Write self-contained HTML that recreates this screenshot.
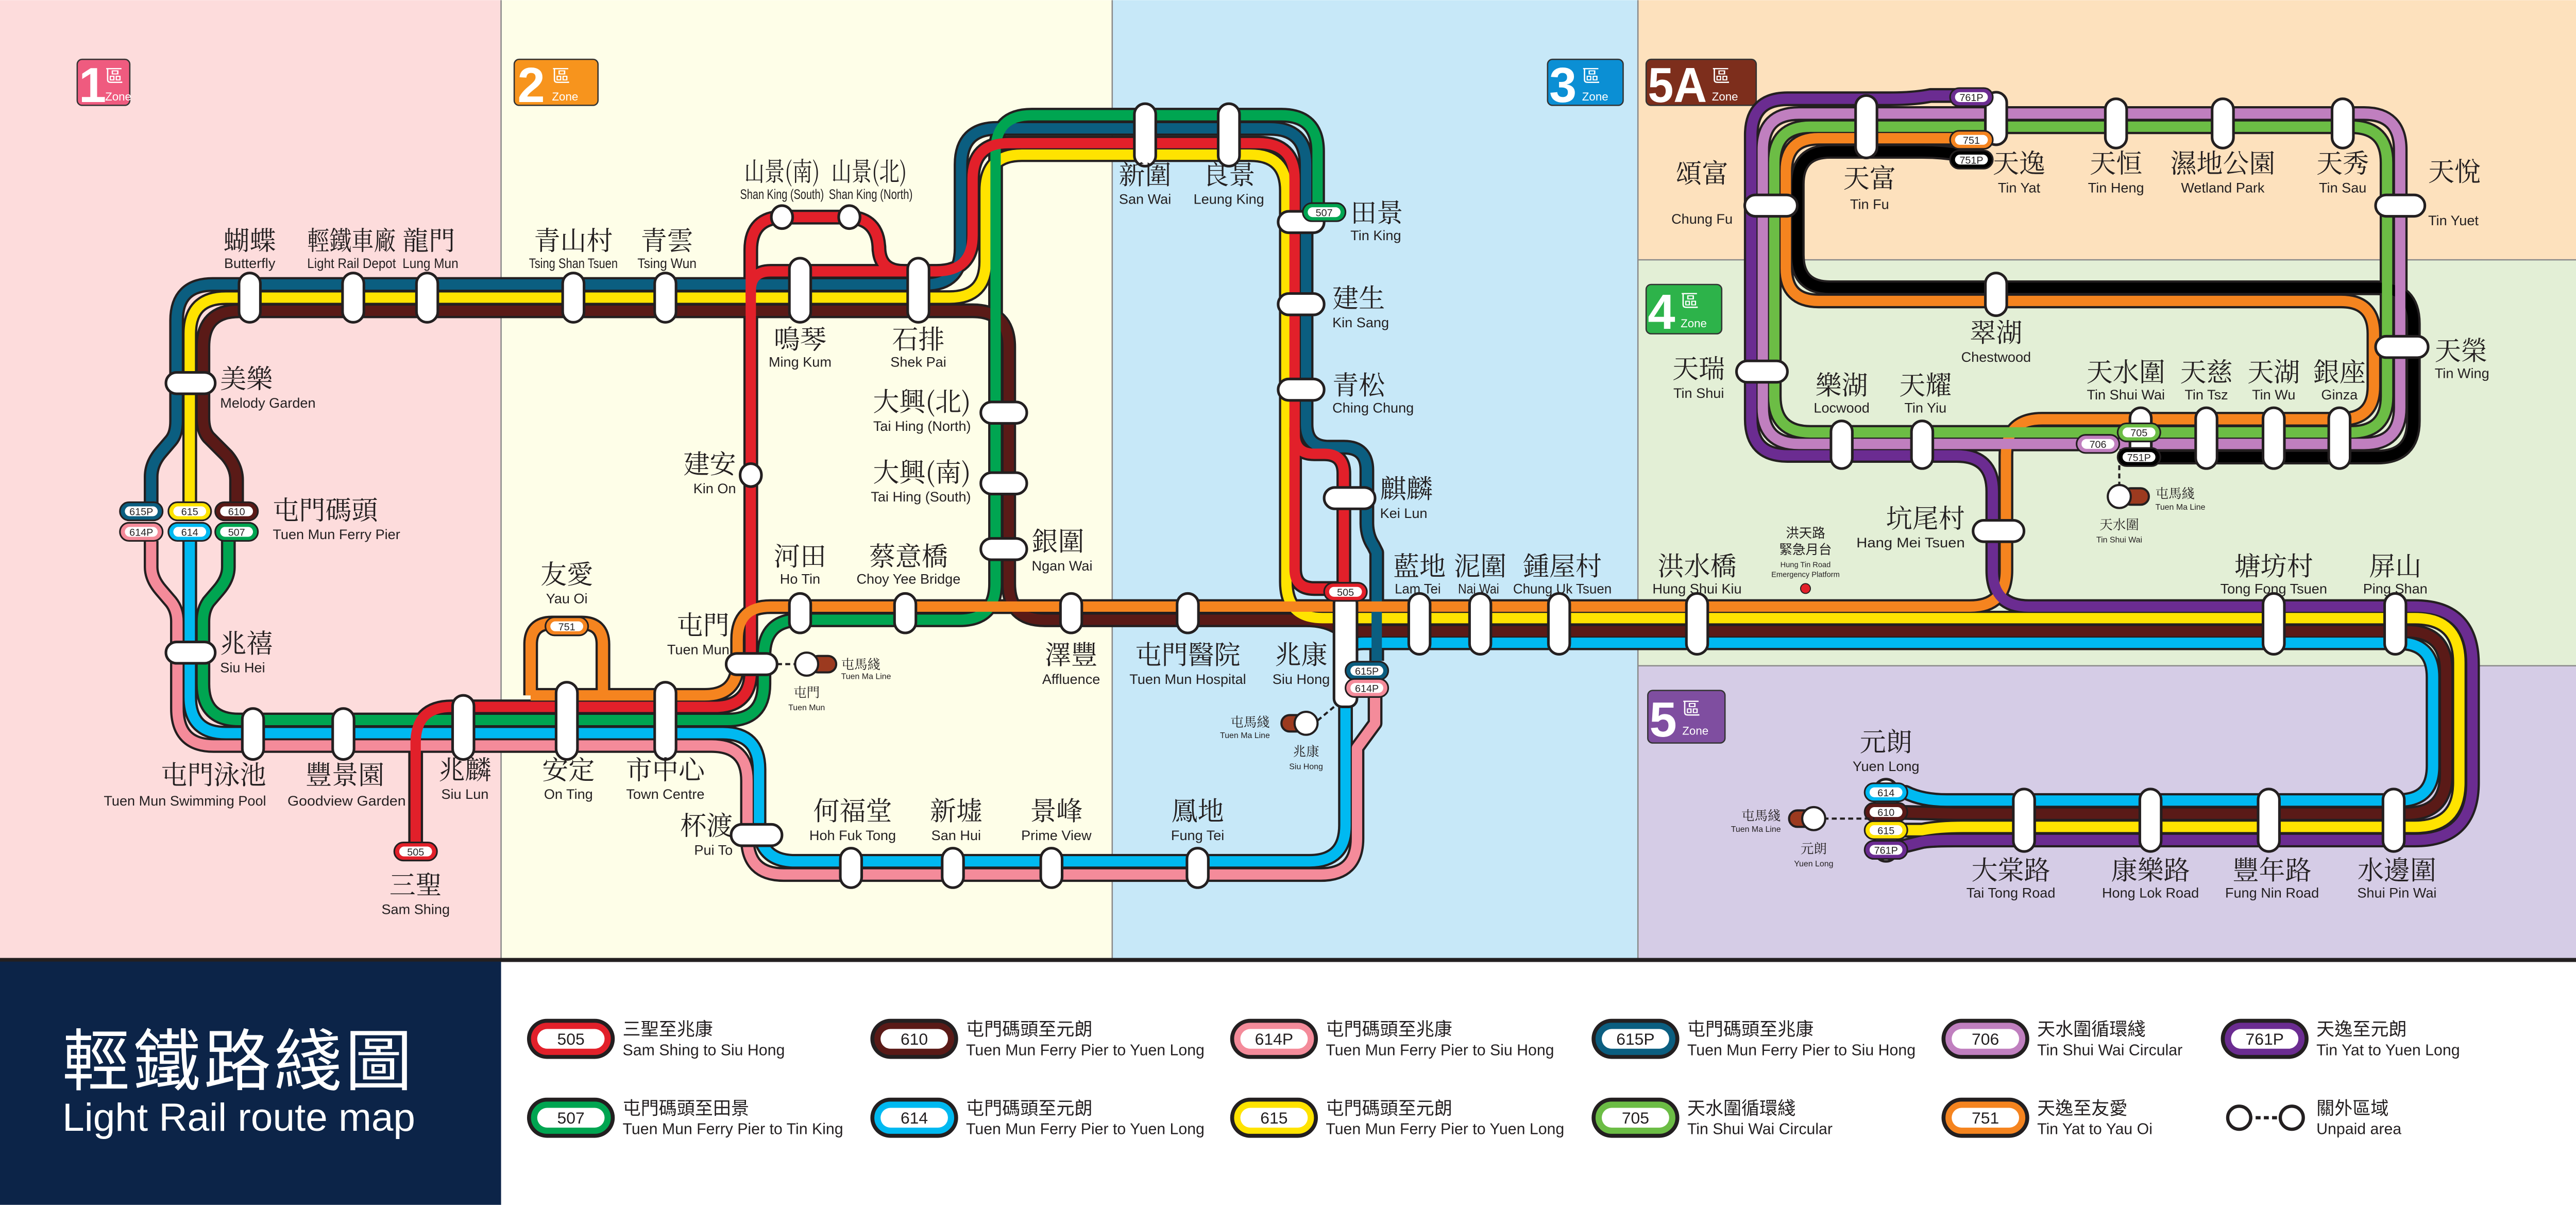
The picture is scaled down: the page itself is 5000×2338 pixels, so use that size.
<!DOCTYPE html>
<html><head><meta charset="utf-8"><style>
html,body{margin:0;padding:0;background:#fff}
svg{display:block}
text{font-family:"Liberation Sans","Noto Sans CJK TC",sans-serif;fill:#231f20}
.cn{font-family:"Noto Serif CJK SC","Noto Sans CJK TC",serif;font-size:16px}
.en{font-size:8.5px}
.c{text-anchor:middle}
.r{text-anchor:end}
.st{fill:#fff;stroke:#231f20;stroke-width:1.6}
.bt{font-size:6.2px;text-anchor:middle;fill:#231f20}
.zn{fill:#fff;font-size:30px;font-weight:bold}
</style></head><body>
<svg xmlns="http://www.w3.org/2000/svg" xmlns:xlink="http://www.w3.org/1999/xlink" width="5000" height="2338" viewBox="0 0 1568 733">
<defs>
<path id="teal" d="M92,306 L92,290 Q92,282 98,275 L104,268 Q107.5,264 107.5,256 L107.5,195 Q107.5,173 129.5,173 L563,173 Q585,173 585,151 L585,100 Q585,78 607,78 L773,78 Q795,78 795,100 L795,258 Q795,272 809,272 L818,272 Q832,272 832,286 L832,318 Q832,326 836,332 L838,336 L838,402"/>
<path id="yel" d="M115.5,306 L115.5,203 Q115.5,181 137.5,181 L578,181 Q600,181 600,159 L600,116 Q600,94 622,94 L761,94 Q783,94 783,116 L783,354 Q783,376 805,376 L1470,376 Q1497,376 1497,403 L1497,476 Q1497,503 1470,503 L1195,503 Q1180,503 1170,505 L1150,505"/>
<path id="brn" d="M144,306 L144,292 Q144,284 138,277 L127,266 Q123.5,262 123.5,254 L123.5,211 Q123.5,189 145.5,189 L592,189 Q614,189 614,211 L614,355 Q614,377 636,377 L795,377 Q805,377 812,380.5 Q819,384 829,384 L1465,384 Q1489,384 1489,408 L1489,471 Q1489,495 1465,495 L1190,495 L1150,494"/>
<path id="lb" d="M115.5,329 L115.5,424 Q115.5,446 137.5,446 L440,446 Q462,446 462,468 L462,502 Q462,524 484,524 L797,524 Q819,524 819,502 L819,400 Q819,391 830,391 L1460,391 Q1481,391 1481,412 L1481,466 Q1481,487 1460,487 L1185,487 Q1170,487 1160,482 L1150,482"/>
<path id="pnk" d="M92,329 L92,345 Q92,352 98,359 L104,366 Q108,371 108,378 L108,431 Q108,453.5 130,453.5 L433,453.5 Q455,453.5 455,475 L455,510 Q455,532 477,532 L804,532 Q826,532 826,510 L826,455 L837,440 L837,424"/>
<path id="grn" d="M139,329 L139,345 Q139,352 133,359 L127,366 Q123.5,371 123.5,378 L123.5,416 Q123.5,438 145.5,438 L443,438 Q465,438 465,416 L465,399 Q465,377 487,377 L584,377 Q606,377 606,355 L606,92 Q606,70 628,70 L780,70 Q802,70 802,92 L802,128"/>
<path id="red" d="M253,512 L253,452 Q253,430 275,430 L435,430 Q457,430 457,408 L457,152 Q457,132 477,132 L515,132 Q535,132 535,152 L535,150 Q535,165 550,165 L570,165 Q592,165 592,143 L592,109 Q592,87 614,87 L766,87 Q788,87 788,109 L788,264 Q788,276 800,276 L806,276 Q818,276 818,288 L818,355"/>
<path id="red2" d="M457,180 L457,177 Q457,165 469,165 L550,165"/>
<path id="red3" d="M788,260 L788,346 Q788,358 800,358 L818,358"/>
<path id="org" d="M323,423 L429,423 Q449,423 449,403 L449,389 Q449,369 469,369 L1199,369 Q1221,369 1221,347 L1221,277 Q1221,255 1243,255 L1425,255 Q1445,255 1445,235 L1445,203 Q1445,183 1425,183 L1107,183 Q1087,183 1087,163 L1087,104 Q1087,84 1107,84 L1200,84"/>
<path id="org2" d="M323,423 L323,392 Q323,379 336,379 L354,379 Q367,379 367,392 L367,423"/>
<path id="pur" d="M1150,517 L1170,512 Q1175,511 1190,511 L1470,511 Q1505,511 1505,476 L1505,404 Q1505,369 1470,369 L1235,369 Q1213,369 1213,347 L1213,299 Q1213,277 1191,277 L1088,277 Q1066,277 1066,255 L1066,82 Q1066,60 1088,60 L1150,60 Q1165,60 1175,58 L1200,58"/>
<path id="lpu" d="M1277,270 L1095,270 Q1073,270 1073,248 L1073,91 Q1073,69 1095,69 L1439,69 Q1461,69 1461,91 L1461,248 Q1461,270 1439,270 L1290,270"/>
<path id="lgr" d="M1102,263 Q1080,263 1080,241 L1080,99 Q1080,77 1102,77 L1431,77 Q1453,77 1453,99 L1453,241 Q1453,263 1431,263 Z"/>
<path id="blk" d="M1200,95 Q1185,92 1170,92 L1114,92 Q1094,92 1094,112 L1094,155 Q1094,175 1114,175 L1447,175 Q1469,175 1469,197 L1469,256 Q1469,278 1447,278 L1302,278"/>
</defs>
<rect x="0" y="0" width="305" height="584" fill="#fddcdc"/>
<rect x="305" y="0" width="372" height="584" fill="#fefee8"/>
<rect x="677" y="0" width="320" height="584" fill="#c7e8f8"/>
<rect x="997" y="0" width="571" height="158" fill="#fde1bd"/>
<rect x="997" y="158" width="571" height="247" fill="#e3efd6"/>
<rect x="997" y="405" width="571" height="179" fill="#d5cce6"/>
<g stroke="#8a8a8a" stroke-width="0.8"><line x1="305" y1="0" x2="305" y2="584"/><line x1="677" y1="0" x2="677" y2="584"/><line x1="997" y1="0" x2="997" y2="584"/><line x1="997" y1="158" x2="1568" y2="158"/><line x1="997" y1="405" x2="1568" y2="405"/></g>
<g>
<rect x="47" y="36" width="32" height="28" rx="3" fill="#ef5b7f" stroke="#333" stroke-width="0.8"/><text class="zn" x="48" y="62">1</text><text x="64" y="50" style="fill:#fff;font-size:11px">區</text><text x="64" y="61" style="fill:#fff;font-size:7px">Zone</text>
<rect x="313" y="36" width="51" height="28" rx="3" fill="#f7941d" stroke="#333" stroke-width="0.8"/><text class="zn" x="315" y="62">2</text><text x="336" y="50" style="fill:#fff;font-size:11px">區</text><text x="336" y="61" style="fill:#fff;font-size:7px">Zone</text>
<rect x="942" y="36" width="46" height="28" rx="3" fill="#0b8fd4" stroke="#333" stroke-width="0.8"/><text class="zn" x="943" y="62">3</text><text x="963" y="50" style="fill:#fff;font-size:11px">區</text><text x="963" y="61" style="fill:#fff;font-size:7px">Zone</text>
<rect x="1002" y="36" width="67" height="28" rx="3" fill="#7d2e1c" stroke="#333" stroke-width="0.8"/><text class="zn" x="1003" y="62" textLength="36" lengthAdjust="spacingAndGlyphs">5A</text><text x="1042" y="50" style="fill:#fff;font-size:11px">區</text><text x="1042" y="61" style="fill:#fff;font-size:7px">Zone</text>
<rect x="1002" y="173" width="46" height="30" rx="3" fill="#2db34a" stroke="#333" stroke-width="0.8"/><text class="zn" x="1003" y="200">4</text><text x="1023" y="187" style="fill:#fff;font-size:11px">區</text><text x="1023" y="199" style="fill:#fff;font-size:7px">Zone</text>
<rect x="1003" y="420" width="47" height="32" rx="3" fill="#7f4ea0" stroke="#333" stroke-width="0.8"/><text class="zn" x="1004" y="448">5</text><text x="1024" y="435" style="fill:#fff;font-size:11px">區</text><text x="1024" y="447" style="fill:#fff;font-size:7px">Zone</text>
</g>
<g fill="none" stroke="#231f20" stroke-width="9" stroke-linejoin="round">
<use xlink:href="#teal"/><use xlink:href="#yel"/><use xlink:href="#brn"/><use xlink:href="#lb"/><use xlink:href="#pnk"/><use xlink:href="#grn"/><use xlink:href="#red"/><use xlink:href="#red2"/><use xlink:href="#red3"/><use xlink:href="#org"/><use xlink:href="#org2"/><use xlink:href="#pur"/><use xlink:href="#lpu"/><use xlink:href="#lgr"/><use xlink:href="#blk"/>
</g>
<g fill="none" stroke-width="6.3" stroke-linejoin="round">
<use xlink:href="#pnk" stroke="#f48b9a"/><use xlink:href="#lb" stroke="#00b9f1"/><use xlink:href="#brn" stroke="#5a1a17"/><use xlink:href="#yel" stroke="#ffe300"/><use xlink:href="#teal" stroke="#0b5e80"/><use xlink:href="#grn" stroke="#00a551"/><use xlink:href="#red" stroke="#e2202a"/><use xlink:href="#red2" stroke="#e2202a"/><use xlink:href="#red3" stroke="#e2202a"/><use xlink:href="#org" stroke="#f5841f"/><use xlink:href="#org2" stroke="#f5841f"/><use xlink:href="#blk" stroke="#000"/><use xlink:href="#lgr" stroke="#6cbd45"/><use xlink:href="#lpu" stroke="#c07fbf"/><use xlink:href="#pur" stroke="#6b2c91"/>
</g>
<g class="st">
<rect x="145.5" y="166" width="13" height="30" rx="6.5"/><rect x="208.5" y="166" width="13" height="30" rx="6.5"/><rect x="253.5" y="166" width="13" height="30" rx="6.5"/><rect x="342.5" y="166" width="13" height="30" rx="6.5"/><rect x="398.5" y="166" width="13" height="30" rx="6.5"/>
<rect x="480.5" y="157" width="13" height="39" rx="6.5"/><rect x="552.5" y="157" width="13" height="39" rx="6.5"/>
<ellipse cx="476" cy="132" rx="6.5" ry="7"/><ellipse cx="517" cy="132" rx="6.5" ry="7"/><ellipse cx="457" cy="289" rx="6.5" ry="7"/>
<rect x="101" y="226.5" width="30" height="13" rx="6.5"/><rect x="101" y="390.5" width="30" height="13" rx="6.5"/>
<rect x="147.5" y="431" width="13" height="31" rx="6.5"/><rect x="202.5" y="431" width="13" height="31" rx="6.5"/>
<rect x="275.5" y="423" width="13" height="39" rx="6.5"/><rect x="338.5" y="415" width="13" height="47" rx="6.5"/><rect x="398.5" y="415" width="13" height="47" rx="6.5"/>
<rect x="442" y="397.5" width="31" height="13" rx="6.5"/>
<rect x="480.5" y="361" width="13" height="24" rx="6.5"/><rect x="544.5" y="361" width="13" height="24" rx="6.5"/>
<rect x="597" y="244.5" width="28" height="13" rx="6.5"/><rect x="597" y="287.5" width="28" height="13" rx="6.5"/><rect x="597" y="327.5" width="28" height="13" rx="6.5"/>
<rect x="645.5" y="361" width="13" height="24" rx="6.5"/><rect x="716.5" y="361" width="13" height="24" rx="6.5"/>
<rect x="445" y="501.5" width="31" height="13" rx="6.5"/>
<rect x="511.5" y="516" width="13" height="24" rx="6.5"/><rect x="573.5" y="516" width="13" height="24" rx="6.5"/><rect x="633.5" y="516" width="13" height="24" rx="6.5"/><rect x="722.5" y="516" width="13" height="24" rx="6.5"/>
<rect x="690.5" y="63" width="13" height="38" rx="6.5"/><rect x="741.5" y="63" width="13" height="38" rx="6.5"/>
<rect x="778" y="128.5" width="28" height="13" rx="6.5"/><rect x="778" y="178.5" width="28" height="13" rx="6.5"/><rect x="778" y="230.5" width="28" height="13" rx="6.5"/>
<rect x="806" y="296.5" width="31" height="13" rx="6.5"/>
<rect x="812" y="362" width="14" height="68" rx="5"/>
<rect x="857.5" y="361" width="13" height="37" rx="6.5"/><rect x="894.5" y="361" width="13" height="37" rx="6.5"/><rect x="942.5" y="361" width="13" height="37" rx="6.5"/><rect x="1026.5" y="361" width="13" height="37" rx="6.5"/><rect x="1377.5" y="361" width="13" height="37" rx="6.5"/><rect x="1451.5" y="361" width="13" height="37" rx="6.5"/>
<rect x="1201" y="316.5" width="31" height="13" rx="6.5"/>
<rect x="1225.5" y="480" width="13" height="38" rx="6.5"/><rect x="1302.5" y="480" width="13" height="38" rx="6.5"/><rect x="1374.5" y="480" width="13" height="38" rx="6.5"/><rect x="1450.5" y="480" width="13" height="38" rx="6.5"/>
<rect x="1129.5" y="58" width="13" height="38" rx="6.5"/><rect x="1208.5" y="56" width="13" height="32" rx="6.5"/><rect x="1281.5" y="60" width="13" height="30" rx="6.5"/><rect x="1346.5" y="60" width="13" height="30" rx="6.5"/><rect x="1419.5" y="60" width="13" height="30" rx="6.5"/>
<rect x="1062" y="118.5" width="32" height="13" rx="6.5"/><rect x="1446" y="118.5" width="30" height="13" rx="6.5"/><rect x="1446" y="204.5" width="32" height="13" rx="6.5"/>
<rect x="1208.5" y="166" width="13" height="26" rx="6.5"/>
<rect x="1057" y="219.5" width="31" height="13" rx="6.5"/>
<rect x="1114.5" y="256" width="13" height="29" rx="6.5"/><rect x="1163.5" y="256" width="13" height="29" rx="6.5"/>
<rect x="1296.5" y="248" width="13" height="35" rx="6.5"/><rect x="1336.5" y="248" width="13" height="37" rx="6.5"/><rect x="1377.5" y="248" width="13" height="37" rx="6.5"/><rect x="1417.5" y="248" width="13" height="37" rx="6.5"/>
<rect x="1141" y="474" width="14" height="50" rx="7"/>
</g>
<g stroke="#231f20" stroke-width="1">
<g fill="#0b5e80"><rect x="73" y="305.5" width="26" height="11" rx="5.5"/><rect x="819" y="402.5" width="26" height="11" rx="5.5"/></g>
<g fill="#ffe300"><rect x="102.5" y="305.5" width="26" height="11" rx="5.5"/><rect x="1135" y="499.5" width="26" height="11" rx="5.5"/></g>
<g fill="#5a1a17"><rect x="131" y="305.5" width="26" height="11" rx="5.5"/><rect x="1135" y="488.5" width="26" height="11" rx="5.5"/></g>
<g fill="#f48b9a"><rect x="73" y="318" width="26" height="11" rx="5.5"/><rect x="819" y="413" width="26" height="11" rx="5.5"/></g>
<g fill="#00b9f1"><rect x="102.5" y="318" width="26" height="11" rx="5.5"/><rect x="1135" y="476.5" width="26" height="11" rx="5.5"/></g>
<g fill="#00a551"><rect x="131" y="318" width="26" height="11" rx="5.5"/><rect x="793" y="123.5" width="26" height="11" rx="5.5"/></g>
<g fill="#e2202a"><rect x="240" y="512.5" width="26" height="11" rx="5.5"/><rect x="806" y="354.5" width="26" height="11" rx="5.5"/></g>
<g fill="#f5841f"><rect x="332" y="375.5" width="26" height="11" rx="5.5"/><rect x="1187" y="79.5" width="26" height="11" rx="5.5"/></g>
<g fill="#6b2c91"><rect x="1135" y="511.5" width="26" height="11" rx="5.5"/><rect x="1187" y="53.5" width="26" height="11" rx="5.5"/></g>
<g fill="#000"><rect x="1187" y="91.5" width="26" height="11" rx="5.5"/><rect x="1289" y="272.5" width="26" height="11" rx="5.5"/></g>
<rect x="1289" y="257.5" width="26" height="11" rx="5.5" fill="#6cbd45"/>
<rect x="1264" y="264.5" width="26" height="11" rx="5.5" fill="#c07fbf"/>
</g>
<g fill="#fff">
<rect x="76" y="308" width="20" height="6" rx="3"/><rect x="105.5" y="308" width="20" height="6" rx="3"/><rect x="134" y="308" width="20" height="6" rx="3"/><rect x="76" y="320.5" width="20" height="6" rx="3"/><rect x="105.5" y="320.5" width="20" height="6" rx="3"/><rect x="134" y="320.5" width="20" height="6" rx="3"/>
<rect x="822" y="405" width="20" height="6" rx="3"/><rect x="822" y="415.5" width="20" height="6" rx="3"/><rect x="809" y="357" width="20" height="6" rx="3"/><rect x="796" y="126" width="20" height="6" rx="3"/><rect x="243" y="515" width="20" height="6" rx="3"/><rect x="335" y="378" width="20" height="6" rx="3"/>
<rect x="1138" y="479" width="20" height="6" rx="3"/><rect x="1138" y="491" width="20" height="6" rx="3"/><rect x="1138" y="502" width="20" height="6" rx="3"/><rect x="1138" y="514" width="20" height="6" rx="3"/>
<rect x="1190" y="56" width="20" height="6" rx="3"/><rect x="1190" y="82" width="20" height="6" rx="3"/><rect x="1190" y="94" width="20" height="6" rx="3"/>
<rect x="1292" y="260" width="20" height="6" rx="3"/><rect x="1267" y="267" width="20" height="6" rx="3"/><rect x="1292" y="275" width="20" height="6" rx="3"/>
</g>
<g>
<text class="bt" x="86" y="313.4">615P</text><text class="bt" x="115.5" y="313.4">615</text><text class="bt" x="144" y="313.4">610</text>
<text class="bt" x="86" y="325.9">614P</text><text class="bt" x="115.5" y="325.9">614</text><text class="bt" x="144" y="325.9">507</text>
<text class="bt" x="832" y="410.4">615P</text><text class="bt" x="832" y="420.9">614P</text><text class="bt" x="819" y="362.4">505</text><text class="bt" x="806" y="131.4">507</text><text class="bt" x="253" y="520.4">505</text><text class="bt" x="345" y="383.4">751</text>
<text class="bt" x="1148" y="484.4">614</text><text class="bt" x="1148" y="496.4">610</text><text class="bt" x="1148" y="507.4">615</text><text class="bt" x="1148" y="519.4">761P</text>
<text class="bt" x="1200" y="61.4">761P</text><text class="bt" x="1200" y="87.4">751</text><text class="bt" x="1200" y="99.4">751P</text>
<text class="bt" x="1302" y="265.4">705</text><text class="bt" x="1277" y="272.4">706</text><text class="bt" x="1302" y="280.4">751P</text>
</g>
<g stroke="#231f20" stroke-width="1.3">
<line x1="473" y1="404" x2="485" y2="404" stroke-dasharray="3,2"/>
<rect x="493" y="399" width="16" height="10" rx="5" fill="#9c3a1f"/><circle cx="491" cy="404" r="7" fill="#fff"/>
<line x1="812" y1="430" x2="800" y2="440" stroke-dasharray="3,2"/>
<rect x="780" y="435" width="16" height="10" rx="5" fill="#9c3a1f"/><circle cx="795" cy="440" r="7" fill="#fff"/>
<line x1="1290" y1="283" x2="1290" y2="296" stroke-dasharray="3,2"/>
<rect x="1292" y="297" width="16" height="10" rx="5" fill="#9c3a1f"/><circle cx="1290" cy="302" r="7" fill="#fff"/>
<line x1="1110" y1="498" x2="1141" y2="498" stroke-dasharray="3,2"/>
<rect x="1089" y="493" width="16" height="10" rx="5" fill="#9c3a1f"/><circle cx="1104" cy="498" r="7" fill="#fff"/>
</g>
<circle cx="1099" cy="358" r="3" fill="#e2202a" stroke="#231f20" stroke-width="0.6"/>
<g>
<text class="cn c" x="152" y="152">蝴蝶</text><text class="en c" x="152" y="163">Butterfly</text>
<text class="cn c" x="214" y="152" textLength="54" lengthAdjust="spacingAndGlyphs">輕鐵車廠</text><text class="en c" x="214" y="163" textLength="54" lengthAdjust="spacingAndGlyphs">Light Rail Depot</text>
<text class="cn c" x="261" y="152">龍門</text><text class="en c" x="262" y="163" textLength="34" lengthAdjust="spacingAndGlyphs">Lung Mun</text>
<text class="cn c" x="349" y="152">青山村</text><text class="en c" x="349" y="163" textLength="54" lengthAdjust="spacingAndGlyphs">Tsing Shan Tsuen</text>
<text class="cn c" x="406" y="152">青雲</text><text class="en c" x="406" y="163" textLength="36" lengthAdjust="spacingAndGlyphs">Tsing Wun</text>
<text class="cn c" x="476" y="110" textLength="46" lengthAdjust="spacingAndGlyphs">山景(南)</text><text class="en c" x="476" y="121" textLength="51" lengthAdjust="spacingAndGlyphs">Shan King (South)</text>
<text class="cn c" x="529" y="110" textLength="46" lengthAdjust="spacingAndGlyphs">山景(北)</text><text class="en c" x="530" y="121" textLength="51" lengthAdjust="spacingAndGlyphs">Shan King (North)</text>
<text class="cn c" x="487" y="212">鳴琴</text><text class="en c" x="487" y="223">Ming Kum</text>
<text class="cn c" x="559" y="212">石排</text><text class="en c" x="559" y="223">Shek Pai</text>
<text class="cn" x="134" y="236">美樂</text><text class="en" x="134" y="248">Melody Garden</text>
<text class="cn" x="166" y="316">屯門碼頭</text><text class="en" x="166" y="328">Tuen Mun Ferry Pier</text>
<text class="cn" x="134" y="397">兆禧</text><text class="en" x="134" y="409">Siu Hei</text>
<text class="cn r" x="162" y="477">屯門泳池</text><text class="en r" x="162" y="490">Tuen Mun Swimming Pool</text>
<text class="cn c" x="210" y="477">豐景園</text><text class="en c" x="211" y="490" textLength="72" lengthAdjust="spacingAndGlyphs">Goodview Garden</text>
<text class="cn c" x="283" y="474">兆麟</text><text class="en c" x="283" y="486">Siu Lun</text>
<text class="cn c" x="346" y="474">安定</text><text class="en c" x="346" y="486">On Ting</text>
<text class="cn c" x="405" y="474">市中心</text><text class="en c" x="405" y="486">Town Centre</text>
<text class="cn c" x="253" y="544">三聖</text><text class="en c" x="253" y="556">Sam Shing</text>
<text class="cn c" x="345" y="355">友愛</text><text class="en c" x="345" y="367">Yau Oi</text>
<text class="cn r" x="448" y="288">建安</text><text class="en r" x="448" y="300">Kin On</text>
<text class="cn r" x="444" y="386">屯門</text><text class="en r" x="444" y="398">Tuen Mun</text>
<text class="cn c" x="487" y="344">河田</text><text class="en c" x="487" y="355">Ho Tin</text>
<text class="cn c" x="553" y="344">蔡意橋</text><text class="en c" x="553" y="355">Choy Yee Bridge</text>
<text class="cn r" x="591" y="250">大興(北)</text><text class="en r" x="591" y="262">Tai Hing (North)</text>
<text class="cn r" x="591" y="293">大興(南)</text><text class="en r" x="591" y="305">Tai Hing (South)</text>
<text class="cn" x="628" y="335">銀圍</text><text class="en" x="628" y="347">Ngan Wai</text>
<text class="cn c" x="652" y="404">澤豐</text><text class="en c" x="652" y="416">Affluence</text>
<text class="cn c" x="723" y="404">屯門醫院</text><text class="en c" x="723" y="416">Tuen Mun Hospital</text>
<text class="cn c" x="792" y="404">兆康</text><text class="en c" x="792" y="416">Siu Hong</text>
<text class="cn r" x="446" y="508">杯渡</text><text class="en r" x="446" y="520">Pui To</text>
<text class="cn c" x="519" y="499">何福堂</text><text class="en c" x="519" y="511">Hoh Fuk Tong</text>
<text class="cn c" x="582" y="499">新墟</text><text class="en c" x="582" y="511">San Hui</text>
<text class="cn c" x="643" y="499">景峰</text><text class="en c" x="643" y="511">Prime View</text>
<text class="cn c" x="729" y="499">鳳地</text><text class="en c" x="729" y="511">Fung Tei</text>
<text class="cn c" x="697" y="112">新圍</text><text class="en c" x="697" y="124">San Wai</text>
<text class="cn c" x="748" y="112">良景</text><text class="en c" x="748" y="124">Leung King</text>
<text class="cn" x="822" y="135">田景</text><text class="en" x="822" y="146">Tin King</text>
<text class="cn" x="811" y="187">建生</text><text class="en" x="811" y="199">Kin Sang</text>
<text class="cn" x="811" y="240">青松</text><text class="en" x="811" y="251">Ching Chung</text>
<text class="cn" x="840" y="303">麒麟</text><text class="en" x="840" y="315">Kei Lun</text>
<text class="cn c" x="864" y="350">藍地</text><text class="en c" x="863" y="361" textLength="28" lengthAdjust="spacingAndGlyphs">Lam Tei</text>
<text class="cn c" x="901" y="350">泥圍</text><text class="en c" x="900" y="361" textLength="25" lengthAdjust="spacingAndGlyphs">Nai Wai</text>
<text class="cn c" x="951" y="350">鍾屋村</text><text class="en c" x="951" y="361" textLength="60" lengthAdjust="spacingAndGlyphs">Chung Uk Tsuen</text>
<text class="cn c" x="1033" y="350">洪水橋</text><text class="en c" x="1033" y="361">Hung Shui Kiu</text>
<text class="c" x="1099" y="327" style="font-size:8px;font-family:'Noto Sans CJK TC',sans-serif">洪天路</text>
<text class="c" x="1099" y="337" style="font-size:8px;font-family:'Noto Sans CJK TC',sans-serif">緊急月台</text>
<text class="c" x="1099" y="345" style="font-size:4.6px">Hung Tin Road</text><text class="c" x="1099" y="351" style="font-size:4.6px">Emergency Platform</text>
<text class="cn r" x="1196" y="321">坑尾村</text><text class="en r" x="1196" y="333" textLength="66" lengthAdjust="spacingAndGlyphs">Hang Mei Tsuen</text>
<text class="cn c" x="1384" y="350">塘坊村</text><text class="en c" x="1384" y="361">Tong Fong Tsuen</text>
<text class="cn c" x="1458" y="350">屏山</text><text class="en c" x="1458" y="361">Ping Shan</text>
<text class="cn c" x="1148" y="457">元朗</text><text class="en c" x="1148" y="469">Yuen Long</text>
<text class="cn c" x="1224" y="535">大棠路</text><text class="en c" x="1224" y="546">Tai Tong Road</text>
<text class="cn c" x="1309" y="535">康樂路</text><text class="en c" x="1309" y="546">Hong Lok Road</text>
<text class="cn c" x="1383" y="535">豐年路</text><text class="en c" x="1383" y="546">Fung Nin Road</text>
<text class="cn c" x="1459" y="535">水邊圍</text><text class="en c" x="1459" y="546">Shui Pin Wai</text>
<text class="cn c" x="1036" y="111">頌富</text><text class="en c" x="1036" y="136">Chung Fu</text>
<text class="cn c" x="1138" y="114">天富</text><text class="en c" x="1138" y="127">Tin Fu</text>
<text class="cn c" x="1229" y="105">天逸</text><text class="en c" x="1229" y="117">Tin Yat</text>
<text class="cn c" x="1288" y="105">天恒</text><text class="en c" x="1288" y="117">Tin Heng</text>
<text class="cn c" x="1353" y="105">濕地公園</text><text class="en c" x="1353" y="117">Wetland Park</text>
<text class="cn c" x="1426" y="105">天秀</text><text class="en c" x="1426" y="117">Tin Sau</text>
<text class="cn" x="1478" y="110">天悅</text><text class="en" x="1478" y="137">Tin Yuet</text>
<text class="cn c" x="1215" y="208">翠湖</text><text class="en c" x="1215" y="220">Chestwood</text>
<text class="cn" x="1482" y="219">天榮</text><text class="en" x="1482" y="230">Tin Wing</text>
<text class="cn c" x="1034" y="230">天瑞</text><text class="en c" x="1034" y="242">Tin Shui</text>
<text class="cn c" x="1121" y="240">樂湖</text><text class="en c" x="1121" y="251">Locwood</text>
<text class="cn c" x="1172" y="240">天耀</text><text class="en c" x="1172" y="251">Tin Yiu</text>
<text class="cn c" x="1294" y="232">天水圍</text><text class="en c" x="1294" y="243">Tin Shui Wai</text>
<text class="cn c" x="1343" y="232">天慈</text><text class="en c" x="1343" y="243">Tin Tsz</text>
<text class="cn c" x="1384" y="232">天湖</text><text class="en c" x="1384" y="243">Tin Wu</text>
<text class="cn c" x="1424" y="232">銀座</text><text class="en c" x="1424" y="243">Ginza</text>
<text x="512" y="407" style="font-size:8px;font-family:'Noto Serif CJK SC',serif">屯馬綫</text>
<text x="512" y="413" style="font-size:5px">Tuen Ma Line</text>
<text class="c" x="491" y="424" style="font-size:8px;font-family:'Noto Serif CJK SC',serif">屯門</text><text class="c" x="491" y="432" style="font-size:5px">Tuen Mun</text>
<text class="r" x="773" y="442" style="font-size:8px;font-family:'Noto Serif CJK SC',serif">屯馬綫</text><text class="r" x="773" y="449" style="font-size:5px">Tuen Ma Line</text>
<text class="c" x="795" y="460" style="font-size:8px;font-family:'Noto Serif CJK SC',serif">兆康</text><text class="c" x="795" y="468" style="font-size:5px">Siu Hong</text>
<text x="1312" y="303" style="font-size:8px;font-family:'Noto Serif CJK SC',serif">屯馬綫</text><text x="1312" y="310" style="font-size:5px">Tuen Ma Line</text>
<text class="c" x="1290" y="322" style="font-size:8px;font-family:'Noto Serif CJK SC',serif">天水圍</text><text class="c" x="1290" y="330" style="font-size:5px">Tin Shui Wai</text>
<text class="r" x="1084" y="499" style="font-size:8px;font-family:'Noto Serif CJK SC',serif">屯馬綫</text><text class="r" x="1084" y="506" style="font-size:5px">Tuen Ma Line</text>
<text class="c" x="1104" y="519" style="font-size:8px;font-family:'Noto Serif CJK SC',serif">元朗</text><text class="c" x="1104" y="527" style="font-size:5px">Yuen Long</text>
</g>
<rect x="0" y="584" width="1568" height="149" fill="#fff"/>
<line x1="0" y1="584" x2="1568" y2="584" stroke="#231f20" stroke-width="2.5"/>
<rect x="0" y="585" width="305" height="148" fill="#0c2448"/>
<text x="38" y="660" style="fill:#fff;font-size:41px;font-family:'Noto Sans CJK TC',sans-serif;letter-spacing:2px">輕鐵路綫圖</text>
<text x="38" y="688" style="fill:#fff;font-size:24px">Light Rail route map</text>
<g stroke="#231f20" stroke-width="2.4">
<rect x="322" y="621" width="51" height="22" rx="11" fill="#e2202a"/>
<rect x="531" y="621" width="51" height="22" rx="11" fill="#5a1a17"/>
<rect x="750" y="621" width="51" height="22" rx="11" fill="#f48b9a"/>
<rect x="970" y="621" width="51" height="22" rx="11" fill="#0b5e80"/>
<rect x="1183" y="621" width="51" height="22" rx="11" fill="#c07fbf"/>
<rect x="1353" y="621" width="51" height="22" rx="11" fill="#6b2c91"/>
<rect x="322" y="669" width="51" height="22" rx="11" fill="#00a551"/>
<rect x="531" y="669" width="51" height="22" rx="11" fill="#00b9f1"/>
<rect x="750" y="669" width="51" height="22" rx="11" fill="#ffe300"/>
<rect x="970" y="669" width="51" height="22" rx="11" fill="#6cbd45"/>
<rect x="1183" y="669" width="51" height="22" rx="11" fill="#f5841f"/>
</g>
<g fill="#fff">
<rect x="327" y="626" width="41" height="12" rx="6"/><rect x="536" y="626" width="41" height="12" rx="6"/><rect x="755" y="626" width="41" height="12" rx="6"/><rect x="975" y="626" width="41" height="12" rx="6"/><rect x="1188" y="626" width="41" height="12" rx="6"/><rect x="1358" y="626" width="41" height="12" rx="6"/>
<rect x="327" y="674" width="41" height="12" rx="6"/><rect x="536" y="674" width="41" height="12" rx="6"/><rect x="755" y="674" width="41" height="12" rx="6"/><rect x="975" y="674" width="41" height="12" rx="6"/><rect x="1188" y="674" width="41" height="12" rx="6"/>
</g>
<g style="font-size:10px;text-anchor:middle">
<text x="347.5" y="635.5">505</text><text x="556.5" y="635.5">610</text><text x="775.5" y="635.5">614P</text><text x="995.5" y="635.5">615P</text><text x="1208.5" y="635.5">706</text><text x="1378.5" y="635.5">761P</text>
<text x="347.5" y="683.5">507</text><text x="556.5" y="683.5">614</text><text x="775.5" y="683.5">615</text><text x="995.5" y="683.5">705</text><text x="1208.5" y="683.5">751</text>
</g>
<g style="font-size:11px;font-family:'Noto Sans CJK TC',sans-serif">
<text x="379" y="630">三聖至兆康</text><text x="588" y="630">屯門碼頭至元朗</text><text x="807" y="630">屯門碼頭至兆康</text><text x="1027" y="630">屯門碼頭至兆康</text><text x="1240" y="630">天水圍循環綫</text><text x="1410" y="630">天逸至元朗</text>
<text x="379" y="678">屯門碼頭至田景</text><text x="588" y="678">屯門碼頭至元朗</text><text x="807" y="678">屯門碼頭至元朗</text><text x="1027" y="678">天水圍循環綫</text><text x="1240" y="678">天逸至友愛</text><text x="1410" y="678">關外區域</text>
</g>
<g style="font-size:9.5px">
<text x="379" y="642">Sam Shing to Siu Hong</text><text x="588" y="642">Tuen Mun Ferry Pier to Yuen Long</text><text x="807" y="642">Tuen Mun Ferry Pier to Siu Hong</text><text x="1027" y="642">Tuen Mun Ferry Pier to Siu Hong</text><text x="1240" y="642">Tin Shui Wai Circular</text><text x="1410" y="642">Tin Yat to Yuen Long</text>
<text x="379" y="690">Tuen Mun Ferry Pier to Tin King</text><text x="588" y="690">Tuen Mun Ferry Pier to Yuen Long</text><text x="807" y="690">Tuen Mun Ferry Pier to Yuen Long</text><text x="1027" y="690">Tin Shui Wai Circular</text><text x="1240" y="690">Tin Yat to Yau Oi</text><text x="1410" y="690">Unpaid area</text>
</g>
<g stroke="#231f20" stroke-width="2" fill="#fff">
<line x1="1363" y1="680" x2="1395" y2="680" stroke-dasharray="3,2"/>
<circle cx="1363" cy="680" r="7"/><circle cx="1395" cy="680" r="7"/>
</g>
</svg>
</body></html>
